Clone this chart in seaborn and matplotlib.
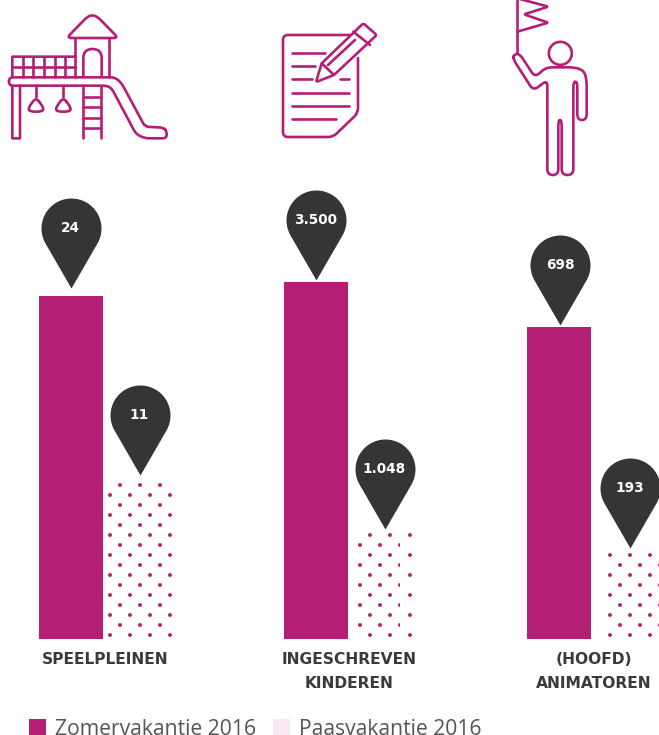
import numpy as np
import pandas as pd
import matplotlib
matplotlib.use("Agg")
import matplotlib.pyplot as plt
import matplotlib.hatch as mhatch
from matplotlib.path import Path
from matplotlib.patches import PathPatch, Patch, Circle
from matplotlib.transforms import Affine2D
import seaborn as sns

# ---------- data ----------
series = ["Zomervakantie 2016", "Paasvakantie 2016"]
group_labels = ["SPEELPLEINEN", "INGESCHREVEN\nKINDEREN", "(HOOFD)\nANIMATOREN"]
speelpleinen = [24, 11]
kinderen = [3500, 1048]
animatoren = [698, 193]
value_labels = [["24", "11"], ["3.500", "1.048"], ["698", "193"]]

MAGENTA = "#b51e75"
PALE = "#f9e8f2"
PIN = "#353535"
TEXT = "#3a3a3a"
W, H = 659, 735


# dotted fill: staggered dots, 20 px apart in a row, rows 10 px apart
class WideDots(mhatch.HatchPatternBase):
    def __init__(self, hatch, density):
        self.on = hatch.count(".")
        circle = Path.unit_circle()
        self.cv, self.cc = circle.vertices, circle.codes
        self.centres = []
        if self.on:
            for r in range(10):
                for c in range(5):
                    self.centres.append(((c + (0.5 if r % 2 else 0)) / 5 + 0.10, (r + 0.5) / 10))
        self.num_vertices = len(self.centres) * len(self.cv)

    def set_vertices_and_codes(self, vertices, codes):
        n = len(self.cv)
        for i, (x, y) in enumerate(self.centres):
            vertices[i * n:(i + 1) * n] = self.cv * 0.019 + (x, y)
            codes[i * n:(i + 1) * n] = self.cc


mhatch._hatch_types = [WideDots if t is mhatch.SmallFilledCircles else t for t in mhatch._hatch_types]

sns.set_theme(style="white")
plt.rcParams["font.family"] = ["Open Sans", "DejaVu Sans"]
plt.rcParams["hatch.linewidth"] = 0.1

fig = plt.figure(figsize=(W / 100, H / 100), dpi=100, facecolor="white")

BASE = 639      # pixel row of the bars' base
AX_H = 440      # axes height in pixels
PT = 0.72       # points per pixel


def pin_path():
    arc = Path.arc(-30, 210)
    verts = np.vstack([arc.vertices * 30 + (0, 60), [[0, 0]], [[0, 0]]])
    codes = list(arc.codes) + [Path.LINETO, Path.CLOSEPOLY]
    return Path(verts, codes)


PIN_PATH = pin_path()
PIN_MS = 90 * PT * 2

layout = [
    # first bar centre px, unit px, first-bar height px, label position
    (70.5, 69.5, 343, 0.496),
    (315.5, 68.0, 357, 0.50),
    (559.0, 74.0, 312, 0.473),
]
# (gap between pin tip and bar top in px, sideways shift of the pin in px)
pin_offsets = [[(8, 0), (7, -0.5)], [(2, 0), (3, 1)], [(2, 1), (5, -3)]]
groups = [speelpleinen, kinderen, animatoren]

for vals, labs, glabel, (c0, unit, h0, tickx), offs in zip(groups, value_labels, group_labels, layout, pin_offsets):
    left = c0 - unit / 2
    ax = fig.add_axes([left / W, (H - BASE) / H, 2 * unit / W, AX_H / H], facecolor="none")
    df = pd.DataFrame({"serie": series, "waarde": vals})
    sns.barplot(data=df, x="serie", y="waarde", hue="serie", hue_order=series, order=series,
                palette=[MAGENTA, MAGENTA], saturation=1, width=64 / unit, legend=False, ax=ax)
    for p in ax.containers[1]:
        p.set_facecolor("white")
        p.set_edgecolor(MAGENTA)
        p.set_hatch(".")
        p.set_linewidth(0)
    for p in ax.containers[0]:
        p.set_linewidth(0)
    ax.set_xlim(-0.5, 1.5)
    ax.set_ylim(0, vals[0] * AX_H / h0)
    ax.set_yticks([])
    ax.set_xlabel("")
    ax.set_ylabel("")
    ax.set_xticks([tickx])
    ax.set_xticklabels([glabel], fontsize=11.2, fontweight="bold", color=TEXT, linespacing=1.74,
                       family="DejaVu Sans")
    ax.tick_params(axis="x", length=0, pad=9.5)
    sns.despine(ax=ax, left=True, bottom=True)
    for i, (v, s, (gap, dx)) in enumerate(zip(vals, labs, offs)):
        pin = ax.plot([i], [v], marker=PIN_PATH, ms=PIN_MS, mfc=PIN, mec="none", ls="none",
                      clip_on=False, zorder=5)[0]
        pin.set_transform(ax.transData + Affine2D().translate(dx, gap))
        ax.annotate(s, (i, v), xytext=(dx * PT, (gap + 60) * PT), textcoords="offset points",
                    ha="center", va="center", color="white", fontsize=9.8, fontweight="bold",
                    family="DejaVu Sans", zorder=6, annotation_clip=False)

# ---------- legend ----------
handles = [Patch(facecolor=MAGENTA, edgecolor="none", label=series[0]),
           Patch(facecolor=PALE, edgecolor="none", label=series[1])]
leg = fig.legend(handles=handles, loc="lower left", bbox_to_anchor=(29 / W, -5 / H), ncol=2,
                 frameon=False, fontsize=15.2, handlelength=0.82, handleheight=0.82,
                 handletextpad=0.42, columnspacing=0.8, borderpad=0, borderaxespad=0,
                 labelcolor="#555555")

# ---------- icons (pixel overlay) ----------
ov = fig.add_axes([0, 0, 1, 1], facecolor="none")
ov.set_xlim(0, W)
ov.set_ylim(H, 0)
ov.axis("off")


def rounded(pts, r=0.0, closed=False):
    """polyline through pts with corners rounded by radius r (pixels)"""
    pts = [np.array(p, float) for p in pts]
    n = len(pts)
    verts, codes = [], []
    idx = range(n) if closed else range(1, n - 1)
    if not closed:
        verts.append(pts[0]); codes.append(Path.MOVETO)
    first = True
    for i in idx:
        p, a, b = pts[i], pts[(i - 1) % n], pts[(i + 1) % n]
        ra = min(r, np.linalg.norm(a - p) / 2)
        rb = min(r, np.linalg.norm(b - p) / 2)
        s = p + (a - p) / max(np.linalg.norm(a - p), 1e-6) * ra
        e = p + (b - p) / max(np.linalg.norm(b - p), 1e-6) * rb
        verts.append(s); codes.append(Path.MOVETO if (closed and first) else Path.LINETO)
        verts += [p, e]; codes += [Path.CURVE3, Path.CURVE3]
        first = False
    if closed:
        verts.append(verts[0]); codes.append(Path.LINETO)
    else:
        verts.append(pts[-1]); codes.append(Path.LINETO)
    return Path(np.array(verts), codes)


def stroke(pts, r=0.0, closed=False, scale=1.0, ox=0.0, oy=0.0, lw=1.9):
    q = [(x * scale + ox, y * scale + oy) for x, y in pts]
    ov.add_patch(PathPatch(rounded(q, r, closed), fc="none", ec=MAGENTA, lw=lw,
                           capstyle="round", joinstyle="round"))


z = 1 / 3
# playground
stroke([(200, 114), (262, 50), (277, 45), (292, 50), (355, 114)], 5, True, z)
stroke([(226, 114), (226, 230)], scale=z)
stroke([(328, 114), (328, 230)], scale=z)
stroke([(250, 230), (250, 147), (305, 147), (305, 230)], 9, scale=z)
stroke([(226, 170), (37, 170), (37, 230)], scale=z)
stroke([(37, 200), (226, 200)], scale=z)
for x in (68, 100, 132, 164, 196):
    stroke([(x, 170), (x, 230)], scale=z)
stroke([(27, 232), (345, 232), (365, 250), (435, 380), (490, 383), (500, 393), (500, 415),
        (435, 415), (408, 402), (335, 265), (320, 257), (27, 257)], 4, True, z)
stroke([(37, 257), (37, 415), (60, 415), (60, 257)], scale=z)
for x in (108, 190):
    stroke([(x, 257), (x, 292)], scale=z)
    stroke([(x, 292), (x - 24, 325), (x - 18, 335), (x + 18, 335), (x + 24, 325)], 5, True, z)
stroke([(250, 257), (250, 415)], scale=z)
stroke([(302, 257), (302, 415)], scale=z)
for y in (290, 322, 353, 385):
    stroke([(250, y), (302, y)], scale=z)

# document with pencil
stroke([(350, 35), (283, 35), (283, 137), (333, 137), (358, 113), (358, 58)], 5)
for y, x1, x2 in ((53, 292, 325), (66, 292, 315), (79, 292, 312), (79, 340, 349),
                  (93, 292, 349), (106, 292, 349), (119, 292, 336)):
    stroke([(x1, y), (x2, y)])
stroke([(321.7, 63.3), (363.3, 23.3), (376.7, 35), (334, 75), (316, 82)], 2, True)
stroke([(321.7, 63.3), (334, 75)])
stroke([(353.3, 31.7), (370, 45)])
stroke([(328, 65), (355, 40)])

# person with flag
fx = lambda pts: [(480 + x / 3, y / 3) for x, y in pts]
stroke(fx([(112, 0), (112, 160)]))
stroke(fx([(112, -5), (205, 20), (132, 43), (205, 68), (112, 95)]), 2)
ov.add_patch(Circle((480 + 241 / 3, 160 / 3), 11.5, fc="none", ec=MAGENTA, lw=1.9))
stroke(fx([(100, 165), (118, 160), (165, 232), (198, 202), (285, 202), (312, 212), (320, 240),
           (320, 360), (292, 360), (292, 245), (280, 245), (280, 525), (245, 525), (245, 360),
           (235, 360), (235, 525), (202, 525), (202, 240), (160, 272), (100, 178)]), 6, True)

fig.savefig("out.png", dpi=100)
